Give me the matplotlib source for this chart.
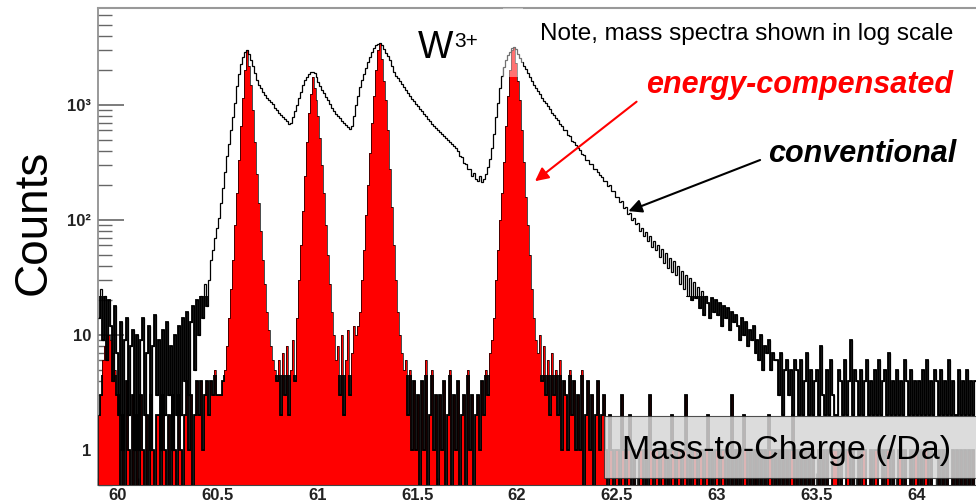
import numpy as np
import matplotlib
matplotlib.use("Agg")
from matplotlib import pyplot as plt
from matplotlib.patches import Rectangle

plt.rcParams['font.family'] = ['Liberation Sans', 'DejaVu Sans']

# histogram bins: 0.01 Da from 59.90 to 64.30
bin_start = 59.90
bin_width = 0.01

# conventional spectrum (black line), one row per 0.1 Da
conventional = [
    14, 25, 9, 22, 6, 20, 12, 4, 18, 7,
    2, 13, 1, 9, 14, 2, 8, 11, 1, 10,
    1, 9, 14, 2, 7, 12, 1, 8, 15, 3,
    9, 1, 11, 2, 13, 3, 8, 1, 10, 2,
    12, 2, 14, 4, 16, 3, 13, 18, 5, 20,
    10, 22, 14, 28, 18, 30, 45, 55, 70, 85,
    105, 140, 190, 260, 360, 460, 610, 780, 1050, 1450,
    1850, 2250, 2600, 2900, 3000, 2750, 2450, 2200, 1900, 1650,
    1500, 1400, 1300, 1220, 1150, 1100, 1060, 1020, 950, 900,
    860, 820, 790, 750, 720, 690, 700, 780, 880, 1000,
    1150, 1300, 1480, 1650, 1750, 1850, 1920, 1950, 1900, 1750,
    1580, 1450, 1350, 1260, 1180, 1100, 1020, 950, 880, 830,
    800, 770, 730, 700, 670, 640, 620, 650, 800, 1000,
    1200, 1420, 1650, 1850, 2100, 2350, 2600, 2900, 3100, 3300,
    3400, 3450, 3300, 3050, 2850, 2650, 2450, 2200, 1950, 1800,
    1700, 1600, 1520, 1420, 1350, 1270, 1200, 1130, 1080, 1020,
    980, 930, 890, 840, 800, 760, 720, 690, 650, 630,
    600, 580, 560, 540, 520, 500, 480, 460, 440, 420,
    395, 360, 352, 310, 305, 280, 275, 240, 255, 228,
    220, 240, 215, 225, 250, 290, 340, 420, 560, 780,
    1050, 1400, 1800, 2150, 2450, 2700, 2900, 3100, 3200, 3050,
    2800, 2550, 2350, 2200, 2050, 1900, 1750, 1620, 1500, 1400,
    1320, 1240, 1160, 1090, 1030, 970, 920, 860, 820, 770,
    735, 680, 655, 610, 600, 550, 540, 490, 480, 445,
    420, 405, 375, 370, 335, 335, 305, 305, 280, 278,
    262, 245, 238, 220, 218, 198, 200, 180, 178, 160,
    158, 142, 145, 128, 130, 112, 115, 100, 104, 92,
    94, 80, 86, 72, 78, 66, 72, 58, 65, 55,
    60, 48, 56, 42, 52, 38, 47, 35, 44, 33,
    40, 28, 36, 25, 33, 22, 31, 20, 29, 21,
    26, 17, 24, 15, 22, 19, 14, 21, 16, 20,
    15, 19, 12, 18, 14, 17, 11, 16, 13, 15,
    12, 9, 14, 10, 13, 8, 11, 9, 12, 7,
    9, 6, 10, 5, 8, 7, 9, 5, 7, 6,
    6, 3, 7, 2, 5, 6, 3, 5, 2, 6,
    5, 2, 6, 2, 4, 7, 2, 5, 2, 4,
    5, 2, 8, 3, 2, 5, 2, 6, 3, 2,
    2, 5, 4, 2, 6, 2, 4, 9, 2, 5,
    4, 2, 5, 2, 4, 6, 2, 4, 2, 5,
    2, 6, 2, 4, 5, 2, 7, 2, 4, 2,
    5, 2, 4, 2, 6, 4, 2, 5, 2, 4,
    2, 4, 2, 5, 2, 6, 2, 4, 2, 5,
    4, 2, 5, 2, 4, 2, 6, 2, 4, 2,
    2, 5, 2, 4, 2, 5, 2, 4, 2, 4,
]

# energy-compensated spectrum (red filled)
compensated = [
    2, 3, 6, 8, 10, 10, 9, 7, 5, 3,
    3, 0, 2, 0, 4, 1, 0, 3, 0, 2,
    0, 3, 1, 0, 2, 0, 3, 1, 0, 2,
    2, 0, 3, 1, 0, 2, 0, 3, 1, 0,
    3, 1, 0, 2, 4, 1, 3, 0, 2, 4,
    2, 4, 1, 3, 4, 2, 4, 3, 5, 3,
    3, 3, 4, 5, 8, 14, 25, 45, 90, 170,
    330, 650, 1150, 2000, 3000, 2200, 1500, 900, 480, 250,
    140, 80, 45, 28, 16, 11, 8, 6, 5, 4,
    6, 2, 7, 3, 8, 2, 5, 9, 4, 14,
    30, 60, 120, 240, 480, 850, 1250, 1750, 1400, 1100,
    800, 520, 300, 170, 90, 50, 28, 16, 10, 6,
    8, 3, 10, 2, 6, 11, 3, 7, 12, 10,
    12, 16, 30, 55, 110, 200, 380, 700, 1200, 2000,
    3000, 3450, 2500, 1600, 1100, 600, 280, 130, 60, 30,
    16, 10, 7, 5, 6, 2, 5, 1, 4, 1,
    3, 0, 4, 1, 6, 0, 2, 5, 1, 3,
    0, 3, 1, 4, 0, 2, 5, 0, 3, 1,
    4, 0, 2, 3, 0, 5, 1, 3, 0, 2,
    3, 1, 4, 2, 5, 3, 7, 9, 14, 30,
    55, 100, 170, 320, 650, 1200, 2000, 3000, 3200, 2300,
    1600, 1100, 600, 320, 160, 90, 50, 25, 14, 9,
    7, 10, 4, 8, 3, 6, 2, 7, 3, 5,
    2, 6, 1, 4, 3, 1, 5, 2, 4, 1,
    3, 1, 5, 0, 2, 4, 1, 3, 0, 2,
    4, 1, 2, 3, 1, 0, 2, 1, 0, 1,
    1, 0, 3, 1, 0, 1, 2, 0, 1, 0,
    0, 1, 1, 0, 1, 0, 3, 1, 0, 1,
    1, 0, 1, 1, 0, 1, 0, 2, 1, 0,
    1, 1, 0, 1, 3, 0, 1, 0, 1, 1,
    0, 1, 1, 0, 1, 2, 0, 1, 0, 1,
    1, 0, 1, 1, 0, 1, 0, 3, 0, 1,
    0, 1, 0, 2, 1, 0, 1, 0, 1, 0,
    1, 0, 1, 0, 1, 0, 2, 1, 0, 1,
    0, 1, 0, 1, 0, 1, 0, 1, 2, 0,
    1, 0, 1, 0, 1, 0, 1, 0, 1, 0,
    0, 1, 0, 1, 0, 1, 0, 0, 1, 1,
    1, 0, 1, 0, 0, 1, 1, 0, 1, 0,
    0, 1, 0, 1, 1, 0, 0, 1, 0, 1,
    1, 0, 0, 1, 0, 1, 1, 0, 1, 0,
    0, 1, 1, 0, 1, 0, 0, 1, 0, 1,
    1, 0, 1, 0, 1, 1, 0, 1, 0, 0,
    0, 1, 0, 1, 0, 1, 0, 0, 1, 0,
    1, 0, 1, 0, 1, 0, 1, 0, 1, 0,
]

x_ticks = [60, 60.5, 61, 61.5, 62, 62.5, 63, 63.5, 64]
x_tick_labels = ["60", "60.5", "61", "61.5", "62", "62.5", "63", "63.5", "64"]
y_ticks = [1, 10, 100, 1000]
y_tick_labels = ["1", "10", "10²", "10³"]

W, H = 976, 504
x_lo, x_hi = 59.905, 64.30
y_lo, y_hi = 0.496, 6970

fig = plt.figure(figsize=(W / 100, H / 100), dpi=100)
ax = fig.add_axes([98 / W, 1 - 485 / H, (W - 98) / W, (485 - 8) / H])

edges = bin_start + bin_width * np.arange(len(conventional) + 1)
floor = 0.1
conv = np.array(conventional, dtype=float)
comp = np.array(compensated, dtype=float)
conv = np.where(conv > 0, conv, floor)
comp = np.where(comp > 0, comp, floor)

ax.stairs(comp, edges, fill=True, color="#ff0000", baseline=floor, zorder=2)
ax.stairs(comp, edges, color="black", lw=0.5, baseline=floor, zorder=3)
# fine-binned noise looks denser in the original: heavier outline near the floor
low = ax.stairs(comp, edges, color="black", lw=1.3, baseline=floor, zorder=3)
low.set_clip_path(Rectangle((x_lo, y_lo), x_hi - x_lo, 4.5 - y_lo,
                            transform=ax.transData))
ax.stairs(conv, edges, color="black", lw=0.9, baseline=None, zorder=4)
low2 = ax.stairs(conv, edges, color="black", lw=1.3, baseline=None, zorder=4)
low2.set_clip_path(Rectangle((x_lo, y_lo), x_hi - x_lo, 22 - y_lo,
                             transform=ax.transData))

ax.set_yscale("log")
ax.set_xlim(x_lo, x_hi)
ax.set_ylim(y_lo, y_hi)

# faded tip of the W peak at 62
ax.add_patch(Rectangle((61.93, 1750), 0.10, 6000, facecolor="white",
                       alpha=0.45, edgecolor="none", zorder=5))

# axis title box
ax.add_patch(Rectangle((62.435, 0.57), 2.0, 1.98 - 0.57, facecolor="#d6d6d6",
                       alpha=0.85, edgecolor="#333333", lw=0.8, zorder=6))
ax.text(63.35, 0.98, "Mass-to-Charge (/Da)", fontsize=24.5, ha="center",
        va="center", zorder=7)

ax.set_xticks(x_ticks)
ax.set_xticklabels(x_tick_labels, fontweight="bold", fontsize=12)
ax.set_xticks(np.arange(59.9, 64.31, 0.1), minor=True)
ax.set_yticks(y_ticks)
ax.set_yticklabels(y_tick_labels, fontweight="bold", fontsize=12)
ax.yaxis.set_minor_locator(matplotlib.ticker.LogLocator(base=10, subs=np.arange(2, 10)))
ax.yaxis.set_minor_formatter(matplotlib.ticker.NullFormatter())
ax.tick_params(axis="y", which="major", direction="in", length=19, width=1.2,
               color="#666666", pad=5)
ax.tick_params(axis="y", which="minor", direction="in", length=10, width=1.0,
               color="#666666")
ax.tick_params(axis="x", which="major", direction="in", length=9, width=1.0,
               color="#333333", pad=2)
ax.tick_params(axis="x", which="minor", direction="in", length=5, width=1.0,
               color="#333333")
for t in ax.get_xticklabels() + ax.get_yticklabels():
    t.set_color("#222222")

ax.spines["right"].set_visible(False)
ax.spines["left"].set_color("#888888")
ax.spines["left"].set_linewidth(1.2)
ax.spines["top"].set_color("#999999")
ax.spines["top"].set_linewidth(1.5)
ax.spines["bottom"].set_color("#444444")

# annotations
ax.annotate("", xy=(62.079, 210), xytext=(62.61, 1105),
            arrowprops=dict(arrowstyle="-|>", color="red", lw=1.5,
                            mutation_scale=20), zorder=8)
ax.annotate("", xy=(62.545, 117), xytext=(63.231, 339),
            arrowprops=dict(arrowstyle="-|>", color="black", lw=1.5,
                            mutation_scale=20), zorder=8)

fig.text(34 / W, 1 - 222 / H, "Counts", fontsize=33, rotation=90,
         ha="center", va="center")
fig.text(418 / W, 1 - 58 / H, "W", fontsize=27, ha="left", va="baseline")
fig.text(454 / W, 1 - 47 / H, "3+", fontsize=15, ha="left", va="baseline")
fig.text(540 / W, 1 - 40 / H, "Note, mass spectra shown in log scale",
         fontsize=17.5, ha="left", va="baseline")
fig.text(646 / W, 1 - 93 / H, "energy-compensated", fontsize=22, color="#ff0000",
         fontweight="bold", fontstyle="italic", ha="left", va="baseline")
fig.text(768 / W, 1 - 162 / H, "conventional", fontsize=22, color="black",
         fontweight="bold", fontstyle="italic", ha="left", va="baseline")

fig.savefig("out.png", dpi=100)
